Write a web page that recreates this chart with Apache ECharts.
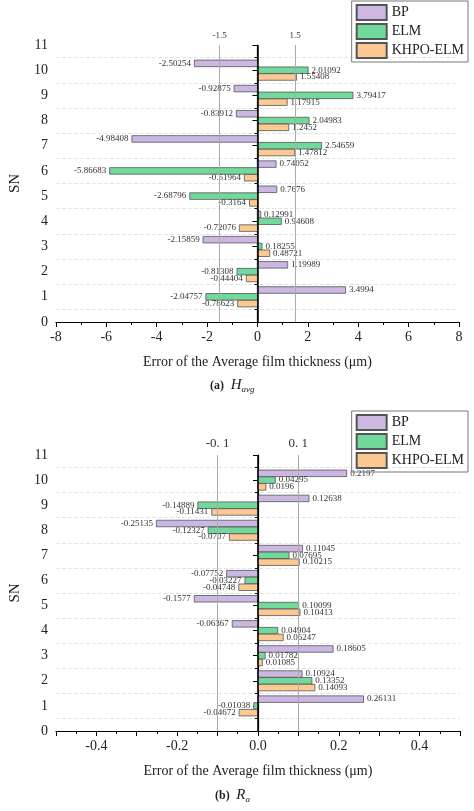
<!DOCTYPE html>
<html><head><meta charset="utf-8">
<script src="https://cdn.jsdelivr.net/npm/echarts@6/dist/echarts.min.js"></script>
<style>html,body{margin:0;padding:0;background:#fff}#c{width:474px;height:811px}</style>
</head><body><div id="c"></div>
<script>
const sn = [1,2,3,4,5,6,7,8,9,10];
const seriesNames = ['BP','ELM','KHPO-ELM'];
const colors = ['#cbb7e2','#72d99c','#fdc993'];
const havgBP = [3.4994,1.19989,-2.15859,0.12991,0.7676,0.74052,-4.98408,-0.83912,-0.92875,-2.50254];
const havgELM = [-2.04757,-0.81308,0.18255,0.94608,-2.68796,-5.86683,2.54659,2.04983,3.79417,2.01092];
const havgKH = [-0.78623,-0.44404,0.48721,-0.72076,-0.3164,-0.51964,1.47812,1.2452,1.17915,1.55408];
const raBP = [0.26131,0.10924,0.18605,-0.06367,-0.1577,-0.07752,0.11045,-0.25135,0.12638,0.2197];
const raELM = [-0.01038,0.13352,0.01782,0.04904,0.10099,-0.03227,0.07695,-0.12327,-0.14889,0.04295];
const raKH = [-0.04672,0.14093,0.01085,0.06247,0.10413,-0.04748,0.10215,-0.0707,-0.11431,0.0196];
const refA = [-1.5, 1.5], refB = [-0.1, 0.1];
const offsets = [0.27, 0, -0.27];
const font = 'Liberation Serif';

const chart = echarts.init(document.getElementById('c'));
function mkSeries(vals, idx, axisIdx, ref) {
  return {
    type: 'custom', name: seriesNames[idx], xAxisIndex: axisIdx, yAxisIndex: axisIdx,
    itemStyle: { color: colors[idx], borderColor: '#555', borderWidth: 0.8 },
    data: vals.map((v, i) => [v, sn[i]]),
    renderItem: function (params, api) {
      const v = api.value(0), y = api.value(1) + offsets[idx];
      const p0 = api.coord([0, y + 0.13]), p1 = api.coord([v, y - 0.13]);
      const x = Math.min(p0[0], p1[0]);
      return {
        type: 'rect',
        shape: { x: x, y: p0[1], width: Math.abs(p1[0] - p0[0]), height: p1[1] - p0[1] },
        style: api.style(),
        textContent: { style: { text: String(v), font: '9px ' + font, fill: '#333' } },
        textConfig: { position: v >= 0 ? 'right' : 'left', distance: 3 }
      };
    },
    markLine: idx === 0 ? {
      silent: true, symbol: 'none',
      label: { position: 'end', fontFamily: font, fontSize: axisIdx ? 13 : 9, color: '#333',
               formatter: p => axisIdx ? String(p.value).replace('.', '. ') : String(p.value) },
      lineStyle: { color: '#aaa', type: 'solid', width: 1 },
      data: ref.map(r => ({ xAxis: r })).concat([{ xAxis: 0, lineStyle: { color: '#000', width: 1.5 }, label: { show: false } }])
    } : undefined
  };
}
const grids = [{ left: 42, right: 15, top: 45, height: 277 }, { left: 42, right: 14, top: 455, height: 276 }];
function xAx(gi, min, max, interval, fmt) {
  return {
    type: 'value', gridIndex: gi, min: min, max: max, interval: interval,
    axisLine: { onZero: false, lineStyle: { color: '#000', width: 1.2 } },
    axisTick: { inside: false, length: 5, lineStyle: { color: '#000' } },
    minorTick: { show: true, splitNumber: 2, length: 3, lineStyle: { color: '#000' } },
    splitLine: { show: false },
    axisLabel: { fontFamily: font, fontSize: 14, color: '#222', formatter: fmt },
    name: 'Error of the Average film thickness (μm)', nameLocation: 'middle', nameGap: 33,
    nameTextStyle: { fontFamily: font, fontSize: 14, color: '#222' }
  };
}
function yAx(gi) {
  return {
    type: 'value', gridIndex: gi, min: 0, max: 11, interval: 1,
    axisLine: { show: true, lineStyle: { color: '#000', width: 1.2 } },
    axisTick: { show: true, length: 5, lineStyle: { color: '#000' } },
    minorTick: { show: true, splitNumber: 2, length: 3, lineStyle: { color: '#000' } },
    splitLine: { show: false },
    minorSplitLine: { show: true, lineStyle: { color: '#e4e4e4', type: 'dashed' } },
    axisLabel: { fontFamily: font, fontSize: 14, color: '#222' },
    name: 'SN', nameLocation: 'middle', nameGap: 28, nameRotate: 90,
    nameTextStyle: { fontFamily: font, fontSize: 15, color: '#222' }
  };
}
const legendBase = {
  orient: 'vertical', right: 6, icon: 'rect', itemWidth: 30, itemHeight: 15, itemGap: 2,
  borderColor: '#777', borderWidth: 1, padding: [3, 4], data: seriesNames,
  textStyle: { fontFamily: font, fontSize: 14, color: '#222' }
};
chart.setOption({
  animation: false,
  grid: grids,
  xAxis: [xAx(0, -8, 8, 2), xAx(1, -0.5, 0.5, 0.1, v => { const k = Math.round(v * 10); return k % 2 === 0 ? v.toFixed(1) : ''; })],
  yAxis: [yAx(0), yAx(1)],
  legend: [Object.assign({ top: 1 }, legendBase), Object.assign({ top: 411 }, legendBase)],
  graphic: [
    { type: 'text', left: 210, top: 378, style: { rich: { a: { font: 'bold 12px ' + font, fill: '#222' }, b: { font: 'italic 15px ' + font, fill: '#222' }, s: { font: 'italic 9px ' + font, fill: '#222', verticalAlign: 'bottom', padding: [8, 0, 0, 0] } }, text: '{a|(a)}  {b|H}{s|avg}' } },
    { type: 'text', left: 215, top: 788, style: { rich: { a: { font: 'bold 12px ' + font, fill: '#222' }, b: { font: 'italic 15px ' + font, fill: '#222' }, s: { font: 'italic 9px ' + font, fill: '#222', padding: [8, 0, 0, 0] } }, text: '{a|(b)}  {b|R}{s|a}' } }
  ],
  series: [
    mkSeries(havgBP, 0, 0, refA), mkSeries(havgELM, 1, 0, refA), mkSeries(havgKH, 2, 0, refA),
    mkSeries(raBP, 0, 1, refB), mkSeries(raELM, 1, 1, refB), mkSeries(raKH, 2, 1, refB)
  ]
});
</script></body></html>
